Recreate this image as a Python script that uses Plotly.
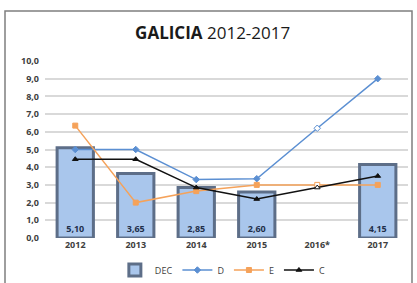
import plotly.graph_objects as go

years = ["2012", "2013", "2014", "2015", "2016*", "2017"]
dec = [5.10, 3.65, 2.85, 2.60, None, 4.15]
dec_labels = ["5,10", "3,65", "2,85", "2,60", "", "4,15"]
d_vals = [5.0, 5.0, 3.3, 3.35, 6.2, 9.0]
e_vals = [6.35, 2.0, 2.65, 3.0, 3.0, 3.0]
c_vals = [4.45, 4.45, 2.85, 2.2, 2.85, 3.5]

est = [y.endswith("*") for y in years]

fig = go.Figure()
fig.add_trace(go.Bar(
    x=years, y=dec, name="DEC", width=0.6,
    marker=dict(color="#a9c6ec", line=dict(color="#5d6e88", width=3)),
    text=dec_labels, textposition="inside", insidetextanchor="start",
    textfont=dict(family="Open Sans", size=9, color="#1f2f4a", weight="bold"),
    textangle=0,
))
fig.add_trace(go.Scatter(
    x=years, y=d_vals, name="D", mode="lines+markers",
    line=dict(color="#5b8fd2", width=1.5),
    marker=dict(symbol="diamond", size=5,
                color=["#ffffff" if e else "#5b8fd2" for e in est],
                line=dict(color="#5b8fd2", width=1)),
))
fig.add_trace(go.Scatter(
    x=years, y=e_vals, name="E", mode="lines+markers",
    line=dict(color="#f5a25a", width=1.5),
    marker=dict(symbol="square", size=5,
                color=["#ffffff" if e else "#f5a25a" for e in est],
                line=dict(color="#f5a25a", width=1)),
))
fig.add_trace(go.Scatter(
    x=years, y=c_vals, name="C", mode="lines+markers",
    line=dict(color="#111111", width=1.5),
    marker=dict(symbol="triangle-up", size=5,
                color=["#ffffff" if e else "#111111" for e in est],
                line=dict(color="#111111", width=1)),
))

L, R, T, B = 45, 9, 61, 45
W, H = 417, 283
pw, ph = W - L - R, H - T - B

def px(x):
    return (x - L) / pw

def py(y):
    return (H - B - y) / ph

fig.add_shape(type="rect", xref="paper", yref="paper",
              x0=px(5), x1=px(412), y0=py(300), y1=py(11),
              line=dict(color="#7f7f7f", width=1.5), layer="below")

fig.update_layout(
    width=W, height=H,
    margin=dict(l=L, r=R, t=T, b=B, autoexpand=False),
    paper_bgcolor="white", plot_bgcolor="white",
    separators=",.",
    title=dict(text="<b>GALICIA</b> 2012-2017", x=0.51, xanchor="center",
               y=1 - 33 / H, yanchor="middle",
               font=dict(family="Open Sans", size=17, color="#1a1a1a")),
    showlegend=True,
    legend=dict(orientation="h", x=0.49, xanchor="center",
                yref="container", y=1 - 270 / H, yanchor="middle",
                font=dict(family="Open Sans", size=9, color="#404040"),
                itemwidth=30, tracegroupgap=0, traceorder="normal"),
    bargap=0.4,
    xaxis=dict(showgrid=False, showline=False, ticks="", automargin=False,
               tickfont=dict(family="Open Sans", size=9, color="#404040", weight="bold")),
    yaxis=dict(range=[0, 10], dtick=1, tickformat=".1f", automargin=False,
               showgrid=True, gridcolor="#d9d9d9", gridwidth=1.5,
               zeroline=False, showline=False, ticks="", ticklabelstandoff=5,
               tickfont=dict(family="Open Sans", size=9, color="#404040", weight="bold")),
)

fig.write_html("out.html", config={"displayModeBar": False},
               post_script="document.body.style.margin='0';")
